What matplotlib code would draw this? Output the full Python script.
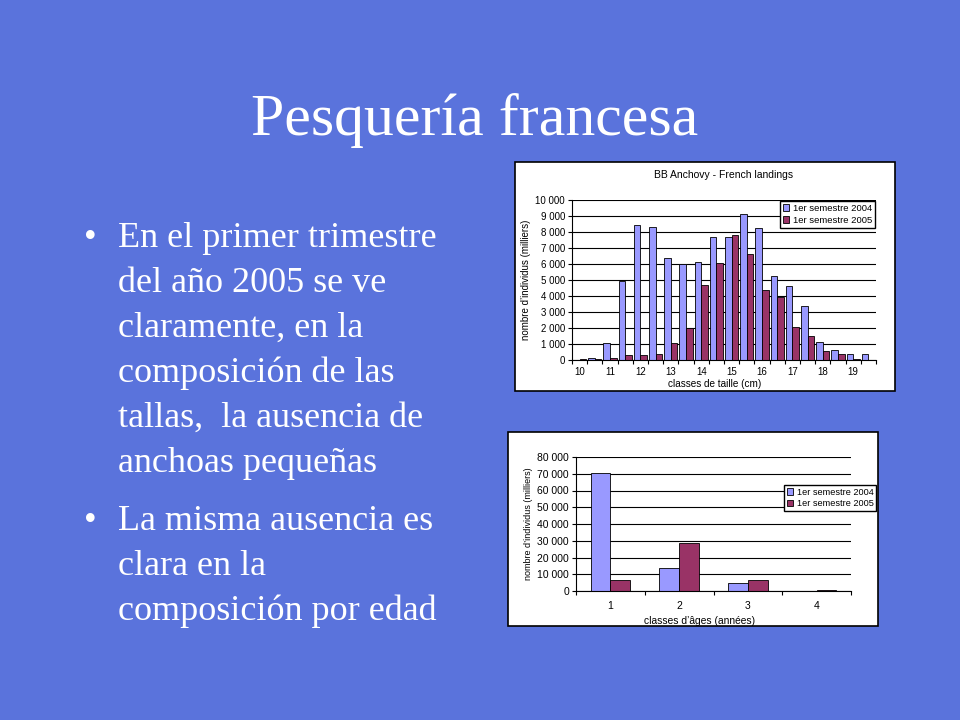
import numpy as np
import matplotlib.pyplot as plt
from matplotlib.patches import Rectangle
from matplotlib.ticker import FuncFormatter

# size classes (cm), half-cm bins
size_classes = [10, 10.5, 11, 11.5, 12, 12.5, 13, 13.5, 14, 14.5,
                15, 15.5, 16, 16.5, 17, 17.5, 18, 18.5, 19, 19.5]
size_2004 = [30, 150, 1050, 4950, 8450, 8300, 6350, 6000, 6100, 7700,
             7700, 9150, 8250, 5250, 4600, 3350, 1100, 600, 350, 350]
size_2005 = [50, 50, 150, 300, 300, 350, 1050, 2000, 4700, 6050,
             7800, 6600, 4400, 3950, 2050, 1500, 550, 350, 50, 0]

# age classes (years)
age_classes = ['1', '2', '3', '4']
age_2004 = [70500, 14000, 5000, 0]
age_2005 = [6500, 28500, 6500, 500]

series_labels = ['1er semestre 2004', '1er semestre 2005']

BG = '#5a73dc'
C04 = '#9999ff'
C05 = '#993366'
W, H = 960, 720


def rect(x0, y0, x1, y1):
    return [x0 / W, 1 - y1 / H, (x1 - x0) / W, (y1 - y0) / H]


def thousands(v, pos):
    return '{:,.0f}'.format(v).replace(',', ' ')


def style_axes(ax, ymax, ystep, fs):
    ax.set_ylim(0, ymax)
    ax.set_yticks(np.arange(0, ymax + 1, ystep))
    ax.yaxis.set_major_formatter(FuncFormatter(thousands))
    ax.grid(axis='y', color='black', linewidth=0.8)
    ax.set_axisbelow(True)
    for s in ['top', 'right']:
        ax.spines[s].set_visible(False)
    for s in ['left', 'bottom']:
        ax.spines[s].set_linewidth(0.8)
    ax.tick_params(axis='y', length=3, width=0.8, labelsize=fs, pad=2)
    ax.set_facecolor('white')


fig = plt.figure(figsize=(9.6, 7.2), dpi=100, facecolor=BG)

fig.text(475 / W, 1 - 135 / H, 'Pesquería francesa', color='white',
         family='Liberation Serif', fontsize=43, ha='center', va='baseline')

bullet_lines = [
    ('En el primer trimestre', 247, True),
    ('del año 2005 se ve', 292, False),
    ('claramente, en la', 337, False),
    ('composición de las', 382, False),
    ('tallas,  la ausencia de', 427, False),
    ('anchoas pequeñas', 472, False),
    ('La misma ausencia es', 530, True),
    ('clara en la', 575, False),
    ('composición por edad', 620, False),
]
for txt, yb, bullet in bullet_lines:
    if bullet:
        fig.text(84 / W, 1 - yb / H, '•', color='white', family='Liberation Serif',
                 fontsize=26, ha='left', va='baseline')
    fig.text(118 / W, 1 - yb / H, txt, color='white', family='Liberation Serif',
             fontsize=26, ha='left', va='baseline')

# white chart boxes
for x0, y0, x1, y1 in [(515, 162, 895, 391), (508, 432, 878, 626)]:
    fig.patches.append(Rectangle((x0 / W, 1 - y1 / H), (x1 - x0) / W, (y1 - y0) / H,
                                 transform=fig.transFigure, facecolor='white',
                                 edgecolor='black', linewidth=1.2, zorder=-5))

plt.rcParams['font.family'] = ['Liberation Sans', 'DejaVu Sans']

# chart 1: size composition
ax1 = fig.add_axes(rect(572, 200, 876, 360))
x = np.arange(len(size_classes))
w = 0.43
b1 = ax1.bar(x - w / 2, size_2004, w, color=C04, edgecolor='black', linewidth=0.6)
b2 = ax1.bar(x + w / 2, size_2005, w, color=C05, edgecolor='black', linewidth=0.6)
ax1.set_xlim(-0.5, len(size_classes) - 0.5)
style_axes(ax1, 10000, 1000, 7)
ax1.set_xticks(x[::2])
ax1.set_xticklabels([str(int(v)) for v in size_classes[::2]])
ax1.set_xticks(np.arange(-0.5, len(size_classes), 1), minor=True)
ax1.tick_params(axis='x', which='major', length=0, labelsize=7, pad=5)
ax1.tick_params(axis='x', which='minor', length=3, width=0.8)
ax1.set_xlabel('classes de taille (cm)', fontsize=7.2, labelpad=0)
ax1.xaxis.set_label_coords(0.47, -0.12)
ax1.set_ylabel('nombre d’individus (milliers)', fontsize=7, labelpad=3)
ax1.set_title('BB Anchovy - French landings', fontsize=7.5, pad=16)
ax1.legend([b1, b2], series_labels, loc='upper right', bbox_to_anchor=(1.0, 1.0),
           fontsize=6.8, frameon=True, fancybox=False, edgecolor='black',
           framealpha=1, handlelength=0.7, handleheight=0.7, handletextpad=0.4,
           borderpad=0.3, labelspacing=0.35, borderaxespad=0.1)

# chart 2: age composition
ax2 = fig.add_axes(rect(576, 457, 851, 591))
xa = np.arange(len(age_classes))
wa = 0.286
c1 = ax2.bar(xa - wa / 2, age_2004, wa, color=C04, edgecolor='black', linewidth=0.6)
c2 = ax2.bar(xa + wa / 2, age_2005, wa, color=C05, edgecolor='black', linewidth=0.6)
ax2.set_xlim(-0.5, len(age_classes) - 0.5)
style_axes(ax2, 80000, 10000, 7.5)
ax2.set_xticks(xa)
ax2.set_xticklabels(age_classes)
ax2.set_xticks(np.arange(-0.5, len(age_classes), 1), minor=True)
ax2.tick_params(axis='x', which='major', length=0, labelsize=7.5, pad=7)
ax2.tick_params(axis='x', which='minor', length=3, width=0.8)
ax2.set_xlabel('classes d’âges (années)', fontsize=7.4, labelpad=0)
ax2.xaxis.set_label_coords(0.45, -0.185)
ax2.set_ylabel('nombre d’individus (milliers)', fontsize=6.5, labelpad=3)
leg = ax2.legend([c1, c2], series_labels, loc='upper left',
                 bbox_to_anchor=((784 - 576) / 275, 1 - (485 - 457) / 134),
                 fontsize=6.6, frameon=True, fancybox=False, edgecolor='black',
                 framealpha=1, handlelength=0.7, handleheight=0.7, handletextpad=0.4,
                 borderpad=0.3, labelspacing=0.25, borderaxespad=0)

fig.savefig('out.png', dpi=100, facecolor=BG)
